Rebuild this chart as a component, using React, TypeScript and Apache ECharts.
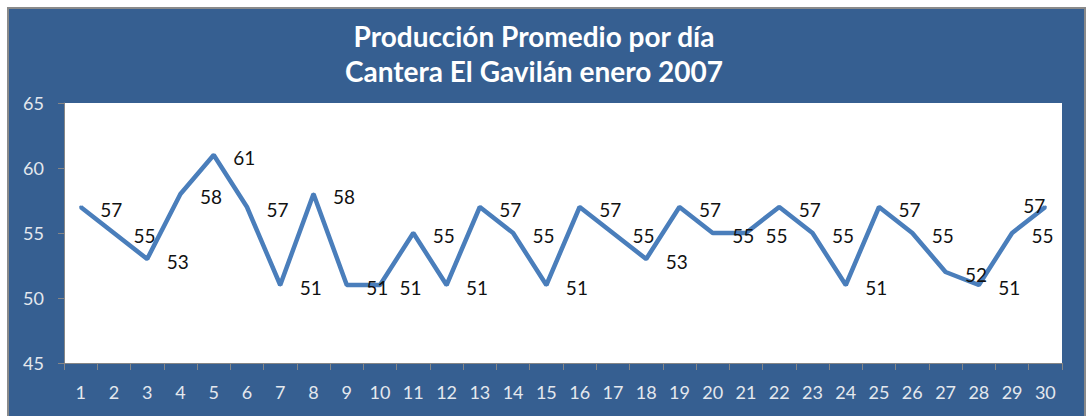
import React, { useEffect, useRef } from "react";
import * as echarts from "echarts";

const days: string[] = ["1","2","3","4","5","6","7","8","9","10","11","12","13","14","15","16","17","18","19","20","21","22","23","24","25","26","27","28","29","30"];
const production: number[] = [57,55,53,58,61,57,51,58,51,51,55,51,57,55,51,57,55,53,57,55,55,57,55,51,57,55,52,51,55,57];
const titleLines: string[] = ["Producción Promedio por día", "Cantera El Gavilán enero 2007"];
const yMin = 45;
const yMax = 65;
const yStep = 5;

const FONT = "Lato, 'Open Sans', sans-serif";

export default function App() {
  const ref = useRef<HTMLDivElement>(null);
  useEffect(() => {
    if (!ref.current) return;
    const chart = echarts.init(ref.current, null, { renderer: "svg" });
    const last = production.length - 1;
    const data = production.map((v, i) =>
      i === last
        ? { value: v, label: { position: "inside", offset: [-11, -2] } }
        : v
    );
    chart.setOption({
      animation: false,
      backgroundColor: "transparent",
      graphic: [
        {
          type: "text",
          x: 534,
          y: 36,
          style: {
            text: titleLines[0],
            fill: "#ffffff",
            font: `bold 28px ${FONT}`,
            textAlign: "center",
            textVerticalAlign: "middle",
          },
        },
        {
          type: "text",
          x: 534,
          y: 71,
          style: {
            text: titleLines[1],
            fill: "#ffffff",
            font: `bold 28px ${FONT}`,
            textAlign: "center",
            textVerticalAlign: "middle",
          },
        },
      ],
      grid: {
        left: 64,
        right: 26,
        top: 103,
        bottom: 53,
        show: true,
        backgroundColor: "#ffffff",
        borderWidth: 0,
      },
      xAxis: {
        type: "category",
        data: days,
        boundaryGap: true,
        axisLine: { show: true, lineStyle: { color: "#868686", width: 1 } },
        axisTick: { show: true, length: 7, alignWithLabel: false, lineStyle: { color: "#868686" } },
        axisLabel: { color: "#E4E8EE", fontSize: 18, fontFamily: FONT, margin: 20, interval: 0 },
        splitLine: { show: false },
      },
      yAxis: {
        type: "value",
        min: yMin,
        max: yMax,
        interval: yStep,
        axisLine: { show: true, lineStyle: { color: "#868686", width: 1 } },
        axisTick: { show: true, length: 6, lineStyle: { color: "#868686" } },
        axisLabel: { color: "#E4E8EE", fontSize: 18, fontFamily: FONT, margin: 20 },
        splitLine: { show: false },
      },
      series: [
        {
          type: "line",
          data,
          symbol: "circle",
          symbolSize: 3,
          itemStyle: { color: "#4A7EBB" },
          lineStyle: { color: "#4A7EBB", width: 4.5 },
          label: {
            show: true,
            position: "right",
            distance: 18,
            offset: [0, 2],
            color: "#111111",
            fontSize: 19,
            fontFamily: FONT,
          },
        },
      ],
    });
    return () => chart.dispose();
  }, []);

  return (
    <div style={{ position: "fixed", left: 0, top: 0, width: 1088, height: 416, background: "#ffffff", overflow: "hidden" }}>
      <div
        style={{
          position: "absolute",
          left: 7,
          top: 7,
          width: 1079,
          height: 420,
          boxSizing: "border-box",
          border: "2px solid #8A8A8A",
          background: "#365F91",
        }}
      />
      <div ref={ref} style={{ position: "absolute", left: 0, top: 0, width: 1088, height: 416 }} />
    </div>
  );
}
